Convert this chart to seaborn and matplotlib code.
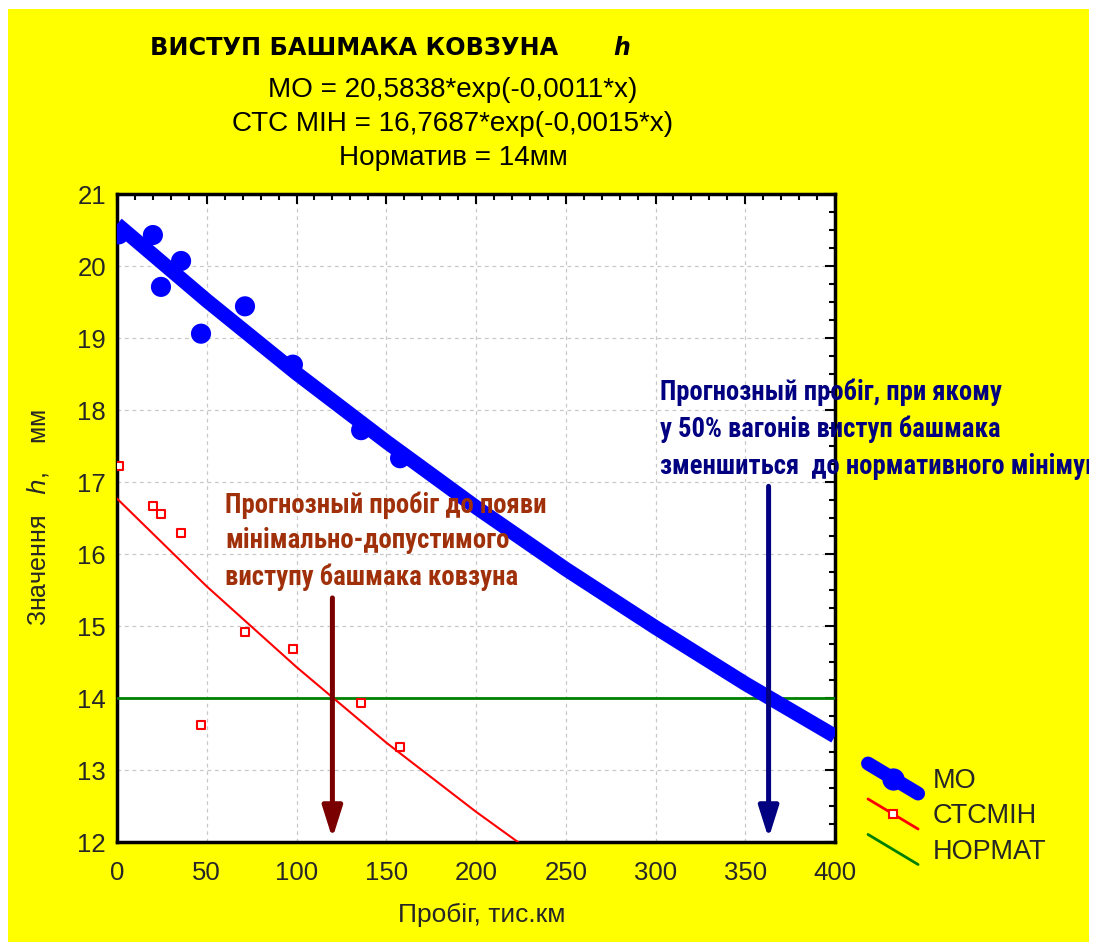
import matplotlib
matplotlib.use("Agg")
import matplotlib.pyplot as plt
import matplotlib.patches as mpatches
from matplotlib.lines import Line2D
from matplotlib.legend_handler import HandlerBase
from matplotlib.ticker import MultipleLocator
from matplotlib import font_manager as fm
import seaborn as sns
import pandas as pd

# ---- data ----
obs_x = [1, 20, 24.5, 35.7, 46.8, 71.3, 98, 136, 157.7]
mo_obs = [20.44, 20.43, 19.71, 20.07, 19.06, 19.44, 18.63, 17.72, 17.33]
min_obs = [17.22, 16.67, 16.56, 16.29, 13.62, 14.92, 14.68, 13.93, 13.32]

curve_x = [0, 50, 100, 150, 200, 250, 300, 350, 400]
mo_curve = [20.58, 19.52, 18.51, 17.56, 16.65, 15.79, 14.98, 14.20, 13.47]
min_curve = [16.77, 15.55, 14.43, 13.38, 12.42, 11.52, 10.69, 9.92, 9.20]
norm_x = [0, 400]
norm_y = [14, 14]

arrow_red_x = 120
arrow_blue_x = 363

title = "ВИСТУП БАШМАКА КОВЗУНА"
sub_lines = ["МО = 20,5838*exp(-0,0011*x)",
             "СТС МІН = 16,7687*exp(-0,0015*x)",
             "Норматив = 14мм"]
red_note = ["Прогнозный пробіг до появи",
            "мінімально-допустимого",
            "виступу башмака ковзуна"]
blue_note = ["Прогнозный пробіг, при якому",
             "у 50% вагонів виступ башмака",
             "зменшиться  до нормативного мінімуму"]
legend_labels = ["МО", "СТСМІН", "НОРМАТ"]

sns.set_style("white")
plt.rcParams['font.family'] = ['Liberation Sans', 'DejaVu Sans']

W, H = 1094, 942
fig = plt.figure(figsize=(W / 100, H / 100), dpi=100)
fig.patch.set_facecolor("white")
yellow = mpatches.Rectangle((8 / W, 0), (1089 - 8) / W, 1 - 9 / H,
                            transform=fig.transFigure, facecolor="#FFFF00",
                            edgecolor="none", zorder=-10)
fig.patches.append(yellow)
ax = fig.add_axes([117 / W, 1 - 842 / H, (835 - 117) / W, (842 - 194) / H])
ax.set_facecolor("white")

df_curve = pd.DataFrame({"x": curve_x, "mo": mo_curve, "mn": min_curve})
df_obs = pd.DataFrame({"x": obs_x, "mo": mo_obs, "mn": min_obs})
df_norm = pd.DataFrame({"x": norm_x, "y": norm_y})

sns.lineplot(data=df_norm, x="x", y="y", color="#008000", lw=2, ax=ax, zorder=3)
sns.lineplot(data=df_curve, x="x", y="mn", color="#FF0000", lw=1.5, ax=ax, zorder=3)
sns.lineplot(data=df_curve, x="x", y="mo", color="#0000FF", lw=10.5, ax=ax, zorder=4,
             solid_capstyle="butt")
sns.scatterplot(data=df_obs, x="x", y="mo", color="#0000FF", s=210, edgecolor="none",
                ax=ax, zorder=5)
sns.scatterplot(data=df_obs, x="x", y="mn", marker="s", s=32, facecolor="white",
                edgecolor="#FF0000", linewidth=1.5, ax=ax, zorder=5)

ax.set_xlim(0, 400)
ax.set_ylim(12, 21)
ax.xaxis.set_major_locator(MultipleLocator(50))
ax.xaxis.set_minor_locator(MultipleLocator(10))
ax.yaxis.set_major_locator(MultipleLocator(1))
ax.yaxis.set_minor_locator(MultipleLocator(0.25))
ax.tick_params(which="both", direction="in", top=True, right=True, color="black",
               labelsize=18.5, width=1.5)
ax.tick_params(which="major", length=7)
ax.tick_params(which="minor", length=4)
ax.tick_params(axis="x", which="major", pad=14)
ax.tick_params(axis="y", which="major", pad=8)
ax.grid(True, which="major", ls=(0, (3, 3)), color="#C8C8C8", lw=0.9)
for s in ax.spines.values():
    s.set_color("black")
    s.set_linewidth(2.5)
ax.set_xlabel("Пробіг, тис.км", fontsize=19)
ax.xaxis.label.set_va("center")
ax.xaxis.set_label_coords((482 - 117) / 718, (842 - 915) / 648)
ax.set_ylabel("Значення   $h$,    мм", fontsize=18)
ax.yaxis.label.set_va("center")
ax.yaxis.set_label_coords((38 - 117) / 718, 0.5)

# arrows
for xa, ytop, col in [(arrow_red_x, 15.39, "#7A0000"), (arrow_blue_x, 16.94, "#000080")]:
    ax.annotate("", xy=(xa, 12.05), xytext=(xa, ytop),
                arrowprops=dict(arrowstyle="-|>,head_length=1.9,head_width=0.6", lw=3.6,
                                color=col, shrinkA=0, shrinkB=0), zorder=6)

renderer = fig.canvas.get_renderer()


def fit_block(texts, target_px):
    w = texts[0].get_window_extent(renderer).width
    k = target_px / w
    for t in texts:
        t.set_fontsize(t.get_fontsize() * k)


names = {f.name for f in fm.fontManager.ttflist}
cond = next((n for n in ['Liberation Sans Narrow', 'DejaVu Sans Condensed',
                         'Roboto Condensed', 'Open Sans Condensed'] if n in names),
            'DejaVu Sans')
narrow = [cond, 'DejaVu Sans']

red_texts = [fig.text(225 / W, 1 - (505 + i * 36) / H, t, family=narrow,
                      fontweight="bold", fontstretch="condensed", fontsize=17,
                      color="#A0300A", va="center", ha="left", zorder=10)
             for i, t in enumerate(red_note)]
fit_block(red_texts, 322)
blue_texts = [fig.text(660 / W, 1 - (392 + i * 37) / H, t, family=narrow,
                       fontweight="bold", fontstretch="condensed", fontsize=17,
                       color="#000080", va="center", ha="left", zorder=10)
              for i, t in enumerate(blue_note)]
fit_block(blue_texts, 342)
for t in blue_texts:
    t.set_clip_path(yellow)
    t.set_clip_on(True)

title_t = fig.text(150 / W, 1 - 48 / H, title, family=['DejaVu Sans'], fontsize=17,
                   fontweight="bold", va="center", ha="left", color="black")
fit_block([title_t], 408)
fig.text(613 / W, 1 - 48 / H, "h", family=['DejaVu Sans'], fontsize=17,
         fontweight="bold", style="italic", va="center", ha="left", color="black")
sub_texts = [fig.text(453 / W, 1 - (90 + i * 34) / H, t, fontsize=18, va="center",
                      ha="center", color="black") for i, t in enumerate(sub_lines)]
fit_block(sub_texts, 370)


class DiagHandler(HandlerBase):
    def create_artists(self, legend, orig_handle, xdescent, ydescent, width, height,
                       fontsize, trans):
        x0 = -xdescent
        cy = -ydescent + height / 2
        dy = 0.6 * width
        line = Line2D([x0, x0 + width], [cy + dy / 2, cy - dy / 2],
                      color=orig_handle.get_color(), lw=orig_handle.get_linewidth(),
                      solid_capstyle="round")
        line.set_transform(trans)
        arts = [line]
        if orig_handle.get_marker() not in (None, "None", "", " "):
            m = Line2D([x0 + width / 2], [cy], ls="none",
                       marker=orig_handle.get_marker(),
                       markersize=orig_handle.get_markersize(),
                       markerfacecolor=orig_handle.get_markerfacecolor(),
                       markeredgecolor=orig_handle.get_markeredgecolor(),
                       markeredgewidth=orig_handle.get_markeredgewidth())
            m.set_transform(trans)
            arts.append(m)
        return arts


handles = [Line2D([], [], color="#0000FF", lw=10, marker="o", markersize=15,
                  markerfacecolor="#0000FF", markeredgecolor="#0000FF"),
           Line2D([], [], color="#FF0000", lw=2, marker="s", markersize=6,
                  markerfacecolor="white", markeredgecolor="#FF0000",
                  markeredgewidth=1.5),
           Line2D([], [], color="#008000", lw=2)]
fig.legend(handles, legend_labels, loc="upper left",
           bbox_to_anchor=(868 / W, 1 - 768 / H), borderpad=0, borderaxespad=0,
           frameon=False, fontsize=19.5, handlelength=1.85, labelspacing=0.35,
           handletextpad=0.55, handler_map={Line2D: DiagHandler()})

fig.savefig("out.png", dpi=100, facecolor=fig.get_facecolor())
